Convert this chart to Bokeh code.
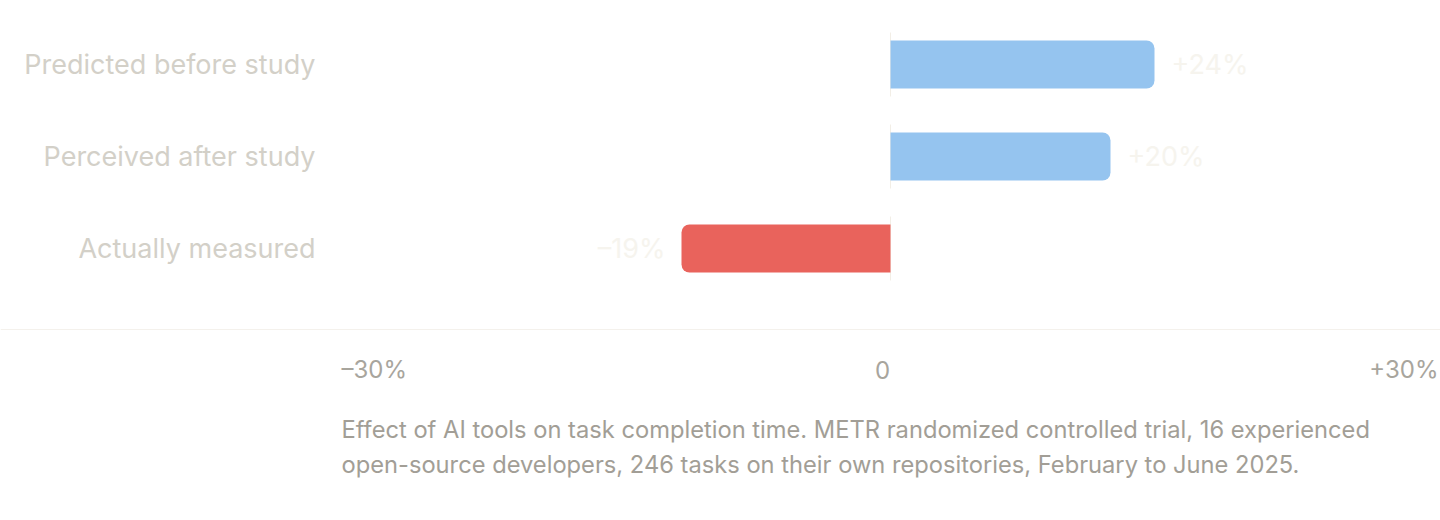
from bokeh.plotting import figure
from bokeh.models import ColumnDataSource, Range1d, Span
from bokeh.core.properties import value
from bokeh.embed import file_html
from bokeh.resources import INLINE

# ---- data ----
categories = ["Predicted before study", "Perceived after study", "Actually measured"]
values = [24, 20, -19]
value_labels = ["+24%", "+20%", "\u201319%"]
tick_values = [-50, 0, 50]
tick_labels = ["\u201330%", "0", "+30%"]
caption_lines = [
    "Effect of AI tools on task completion time. METR randomized controlled trial, 16 experienced",
    "open-source developers, 246 tasks on their own repositories, February to June 2025.",
]

# ---- layout ----
W, H = 1440, 512
ZERO_PX = 890
PX_PER_PCT = 11.0
FIRST_ROW = 64
ROW_GAP = 92
BAR_H = 48
FONT = "Inter"

BLUE = "#95c4ef"
RED = "#e9635c"
CAT_COLOR = "#d3d0c8"
VAL_COLOR = "#f6f4ee"
TICK_COLOR = "#a8a59d"
CAP_COLOR = "#a29e96"
RULE_COLOR = "#f4f1ec"

row_y = [FIRST_ROW + ROW_GAP * i for i in range(len(categories))]

p = figure(width=W, height=H, output_backend="svg", toolbar_location=None,
           x_range=Range1d(-ZERO_PX / PX_PER_PCT, (W - ZERO_PX) / PX_PER_PCT),
           y_range=Range1d(H, 0), x_axis_type=None, y_axis_type=None,
           min_border=0, min_border_left=0, min_border_right=0,
           min_border_top=0, min_border_bottom=0)
p.grid.visible = False
p.outline_line_color = None
p.background_fill_color = "white"
p.border_fill_color = "white"

# zero guide per row
p.segment(x0=[0] * len(row_y), x1=[0] * len(row_y),
          y0=[y - BAR_H / 2 - 8 for y in row_y], y1=[y + BAR_H / 2 + 8 for y in row_y],
          line_color="#f2eee6", line_width=1)

pos = ColumnDataSource(dict(
    y=[y for y, v in zip(row_y, values) if v >= 0],
    left=[0 for v in values if v >= 0],
    right=[v for v in values if v >= 0]))
neg = ColumnDataSource(dict(
    y=[y for y, v in zip(row_y, values) if v < 0],
    left=[v for v in values if v < 0],
    right=[0 for v in values if v < 0]))

p.hbar(y="y", left="left", right="right", height=BAR_H, source=pos,
       fill_color=BLUE, line_color=None, border_radius=(0, 8, 8, 0))
p.hbar(y="y", left="left", right="right", height=BAR_H, source=neg,
       fill_color=RED, line_color=None, border_radius=(8, 0, 0, 8))

# category labels
cat_src = ColumnDataSource(dict(x=[-ZERO_PX / PX_PER_PCT] * len(categories), y=row_y, t=categories))
p.text(x="x", y="y", text="t", source=cat_src, x_offset=315,
       text_align="right", text_baseline="middle", text_color=CAT_COLOR,
       text_font=value(FONT), text_font_size="27px")

# value labels
val_src = ColumnDataSource(dict(
    x=values, y=row_y, t=value_labels,
    off=[17 if v >= 0 else -16 for v in values],
    align=["left" if v >= 0 else "right" for v in values]))
p.text(x="x", y="y", text="t", source=val_src, x_offset="off",
       text_align="align", text_baseline="middle", text_color=VAL_COLOR,
       text_font=value(FONT), text_font_size="27px")

# baseline rule
p.add_layout(Span(location=329, dimension="width", line_color=RULE_COLOR, line_width=1))

# tick labels
tick_src = ColumnDataSource(dict(
    x=tick_values, y=[369] * len(tick_values), t=tick_labels,
    align=["left", "center", "right"], off=[1, -8, -2]))
p.text(x="x", y="y", text="t", source=tick_src, x_offset="off",
       text_align="align", text_baseline="middle", text_color=TICK_COLOR,
       text_font=value(FONT), text_font_size="24px")

# caption
cap_src = ColumnDataSource(dict(x=[tick_values[0]] * len(caption_lines),
                                y=[429 + 35 * i for i in range(len(caption_lines))],
                                t=caption_lines))
p.text(x="x", y="y", text="t", source=cap_src, x_offset=1,
       text_align="left", text_baseline="middle", text_color=CAP_COLOR,
       text_font=value(FONT), text_font_size="23.7px")

open("out.html", "w").write(file_html(p, INLINE))
